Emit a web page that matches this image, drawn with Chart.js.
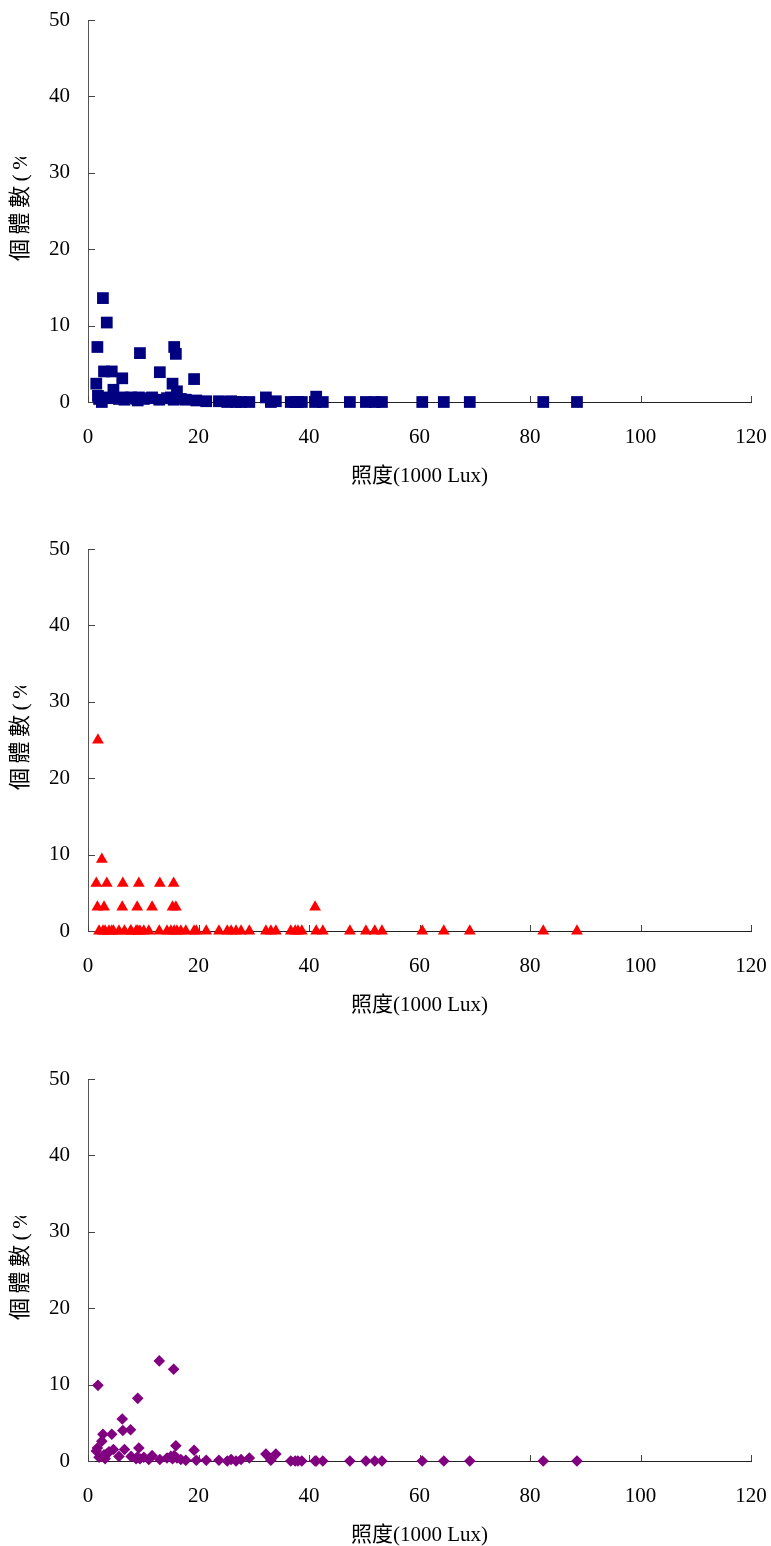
<!DOCTYPE html>
<html>
<head>
<meta charset="utf-8">
<script src="https://cdn.jsdelivr.net/npm/chart.js@4.4.1/dist/chart.umd.min.js"></script>
<style>
  html, body { margin: 0; padding: 0; background: #fff; overflow: hidden; }
  .panel { position: absolute; left: 0; width: 771px; height: 529px; }
</style>
</head>
<body>
<div class="panel" style="top:0"><canvas id="c1" width="771" height="529"></canvas></div>
<div class="panel" style="top:529px"><canvas id="c2" width="771" height="529"></canvas></div>
<div class="panel" style="top:1059px"><canvas id="c3" width="771" height="529"></canvas></div>
<script>
// Illuminance readings (1000 Lux), shared by all three panels
const lux = [1.5, 1.7, 1.8, 2.0, 2.5, 2.7, 2.9, 3.1, 3.4, 3.8, 4.3, 4.6, 5.6, 6.2, 6.3, 6.6, 7.7, 7.8, 8.7, 8.9,
             9.0, 9.2, 9.4, 10.1, 11.0, 11.6, 12.9, 13.0, 14.3, 15.0, 15.3, 15.5, 15.6, 15.9, 16.1, 16.8, 17.7, 19.2, 19.6, 21.4,
             23.7, 25.2, 25.9, 26.8, 27.7, 29.2, 32.2, 33.1, 34.0, 36.7, 37.5, 38.0, 38.7, 41.1, 41.3, 42.5, 47.4, 50.3, 51.9, 53.2,
             60.5, 64.4, 69.1, 82.4, 88.5];

// Share of individuals (%) at each reading
const ratioA = [2.4, 7.2, 0.8, 0.4, 0, 13.6, 4.0, 0.6, 10.4, 0.5, 4.0, 1.6, 0.4, 3.1, 0.6, 0.3, 0.5, 0.6, 0.5, 0.4,
                0.2, 0.6, 6.4, 0.4, 0.5, 0.6, 0.3, 3.9, 0.5, 0.6, 2.4, 0.3, 7.2, 6.3, 1.4, 0.4, 0.3, 3.0, 0.2, 0.1,
                0.1, 0, 0.1, 0, 0, 0, 0.6, 0, 0.1, 0, 0, 0, 0, 0, 0.7, 0, 0, 0, 0, 0,
                0, 0, 0, 0, 0];
const ratioB = [6.25, 3.125, 25, 0, 9.375, 0, 3.125, 0, 6.25, 0, 0, 0, 0, 3.125, 6.25, 0, 0, 0, 0, 3.125,
                0, 6.25, 0, 0, 0, 3.125, 0, 6.25, 0, 0, 3.125, 6.25, 0, 3.125, 0, 0, 0, 0, 0, 0,
                0, 0, 0, 0, 0, 0, 0, 0, 0, 0, 0, 0, 0, 3.125, 0, 0, 0, 0, 0, 0,
                0, 0, 0, 0, 0];
const ratioC = [1.3, 1.7, 9.9, 0.5, 2.6, 3.5, 0.8, 0.3, 0.9, 1.2, 3.5, 1.5, 0.6, 5.5, 4.0, 1.5, 4.1, 0.6, 0.3, 0.5,
                8.2, 1.7, 0.3, 0.5, 0.2, 0.7, 13.1, 0.2, 0.4, 0.6, 0.3, 12.0, 0.7, 2.0, 0.4, 0.2, 0.1, 1.4, 0.1, 0.1,
                0.1, 0, 0.2, 0, 0.2, 0.4, 0.9, 0.1, 0.9, 0, 0, 0, 0, 0, 0, 0, 0, 0, 0, 0,
                0, 0, 0, 0, 0];

const xTicks = [0, 20, 40, 60, 80, 100, 120];
const yTicks = [0, 10, 20, 30, 40, 50];
const xTitle = '照度(1000 Lux)';
const yTitle = '個體數(%)';

const SERIF = '"Liberation Serif", "Times New Roman", "Noto Sans CJK TC", serif';

// Inward tick marks and the clipped vertical axis title
const axisDecor = {
  id: 'axisDecor',
  beforeDatasetsDraw(chart) {
    const { ctx, chartArea } = chart;
    const x = chart.scales.x, y = chart.scales.y;
    ctx.save();
    ctx.strokeStyle = '#444';
    ctx.lineWidth = 1;
    ctx.beginPath();
    yTicks.forEach(v => {
      const py = Math.round(y.getPixelForValue(v)) + 0.5;
      ctx.moveTo(chartArea.left, py);
      ctx.lineTo(chartArea.left + 7, py);
    });
    xTicks.forEach(v => {
      const px = Math.round(x.getPixelForValue(v)) + 0.5;
      ctx.moveTo(px, chartArea.bottom);
      ctx.lineTo(px, chartArea.bottom - 6);
    });
    ctx.stroke();
    ctx.restore();

    ctx.save();
    ctx.beginPath();
    ctx.rect(0, chartArea.top + 137, 60, 300);
    ctx.clip();
    ctx.translate(21, chartArea.top + 241);
    ctx.rotate(-Math.PI / 2);
    ctx.font = '22px ' + SERIF;
    ctx.letterSpacing = '4.5px';
    ctx.textAlign = 'left';
    ctx.textBaseline = 'middle';
    ctx.fillStyle = '#000';
    ctx.fillText(yTitle, 0, 0);
    ctx.restore();
  }
};

function makeChart(id, values, color, shape, radius) {
  const points = lux.map((v, i) => ({ x: v, y: values[i] }));
  return new Chart(document.getElementById(id), {
    type: 'scatter',
    data: {
      datasets: [{
        data: points,
        pointStyle: shape,
        pointRadius: radius,
        pointHoverRadius: radius,
        pointBackgroundColor: color,
        pointBorderColor: color,
        pointBorderWidth: 0,
        clip: false
      }]
    },
    options: {
      responsive: false,
      animation: false,
      events: [],
      layout: { padding: { left: 0, right: 20, top: 20, bottom: 0 } },
      plugins: { legend: { display: false }, tooltip: { enabled: false } },
      scales: {
        x: {
          type: 'linear',
          min: 0, max: 120,
          afterFit(scale) { scale.height = 127; scale.paddingLeft = 0; scale.paddingRight = 0; },
          grid: { display: true, drawOnChartArea: false, drawTicks: false },
          border: { display: true, color: '#222', width: 1 },
          ticks: { stepSize: 20, padding: 23, color: '#000', font: { family: SERIF, size: 21 } },
          title: { display: true, text: xTitle, color: '#000', font: { family: SERIF, size: 21 }, padding: { top: 0, bottom: 40 } }
        },
        y: {
          type: 'linear',
          min: 0, max: 50,
          afterFit(scale) { scale.width = 88; scale.paddingTop = 0; scale.paddingBottom = 0; },
          grid: { display: true, drawOnChartArea: false, drawTicks: false },
          border: { display: true, color: '#555', width: 1 },
          ticks: { stepSize: 10, padding: 18, color: '#000', font: { family: SERIF, size: 21 } },
          title: { display: false }
        }
      }
    },
    plugins: [axisDecor]
  });
}

makeChart('c1', ratioA, '#000080', 'rect', 8.3);
makeChart('c2', ratioB, '#FF0000', 'triangle', 6.8);
makeChart('c3', ratioC, '#800080', 'rectRot', 5.8);
</script>
</body>
</html>
